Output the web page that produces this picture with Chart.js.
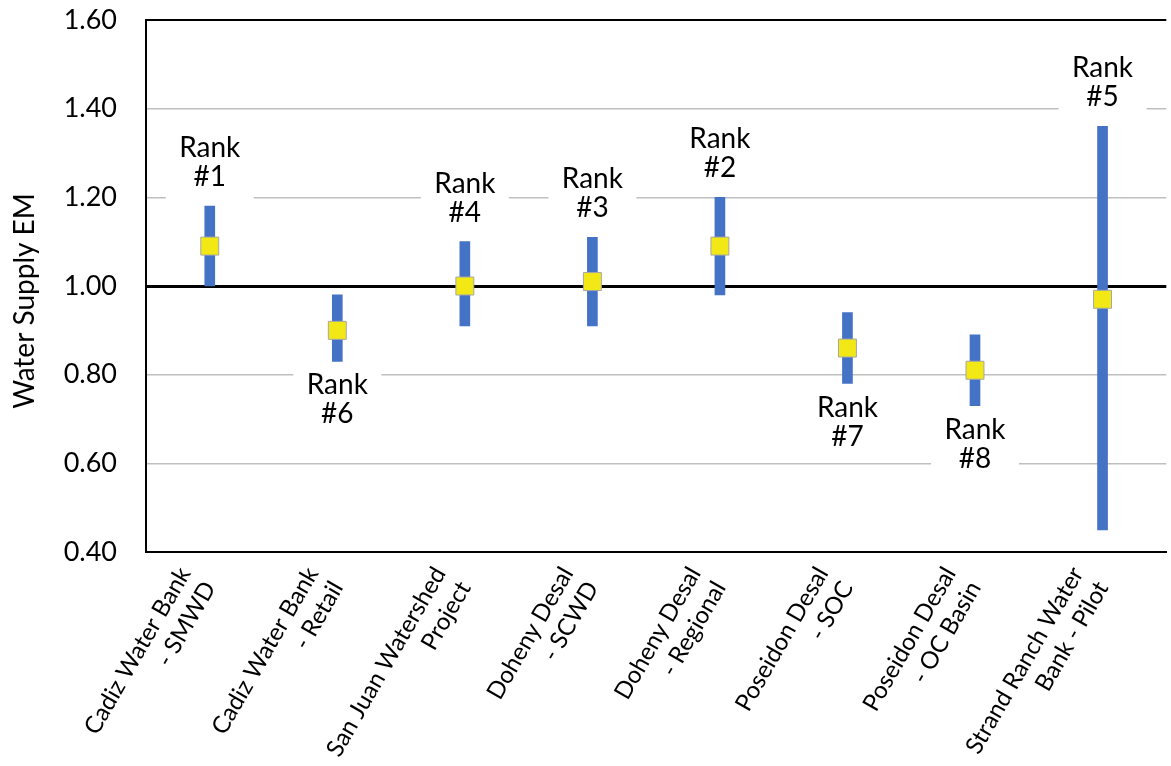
<!DOCTYPE html>
<html>
<head>
<meta charset="utf-8">
<script src="https://cdn.jsdelivr.net/npm/chart.js@4.4.1/dist/chart.umd.min.js"></script>
<style>
  html, body { margin: 0; padding: 0; background: #fff; overflow: hidden; }
  #wrap { width: 1171px; height: 766px; overflow: hidden; }
  canvas { display: block; }
</style>
</head>
<body>
<div id="wrap"><canvas id="c" width="1180" height="766"></canvas></div>
<script>
// ---- data ----
const categories = [
  ['Cadiz Water Bank', '- SMWD'],
  ['Cadiz Water Bank', '- Retail'],
  ['San Juan Watershed', 'Project'],
  ['Doheny Desal', '- SCWD'],
  ['Doheny Desal', '- Regional'],
  ['Poseidon Desal', '- SOC'],
  ['Poseidon Desal', '- OC Basin'],
  ['Strand Ranch Water', 'Bank - Pilot']
];
const lowValues  = [1.00, 0.83, 0.91, 0.91, 0.98, 0.78, 0.73, 0.45];
const highValues = [1.18, 0.98, 1.10, 1.11, 1.20, 0.94, 0.89, 1.36];
const midValues  = [1.09, 0.90, 1.00, 1.01, 1.09, 0.86, 0.81, 0.97];
const ranks      = [1, 6, 4, 3, 2, 7, 8, 5];
const rankSide   = ['above', 'below', 'above', 'above', 'above', 'below', 'below', 'above'];
const yTicks     = [0.40, 0.60, 0.80, 1.00, 1.20, 1.40, 1.60];
const yTitle     = 'Water Supply EM';

const FONT = 'Lato, "Open Sans", sans-serif';
const near = (a, b) => Math.abs(a - b) < 1e-6;

const rankLabelPlugin = {
  id: 'rankLabels',
  beforeDatasetsDraw(chart) {
    const ctx = chart.ctx;
    const xs = chart.scales.x, ys = chart.scales.y;
    ctx.save();
    ctx.font = '28px ' + FONT;
    ctx.textAlign = 'center';
    ctx.textBaseline = 'middle';
    const lh = 29;
    ranks.forEach((r, i) => {
      const x = xs.getPixelForValue(i);
      let l1, l2;
      if (rankSide[i] === 'above') {
        l2 = ys.getPixelForValue(highValues[i]) - 29;
        l1 = l2 - lh;
      } else {
        l1 = ys.getPixelForValue(lowValues[i]) + 24;
        l2 = l1 + lh;
      }
      ctx.fillStyle = '#ffffff';
      ctx.fillRect(x - 44, l1 - 22, 88, (l2 + 23) - (l1 - 22));
      ctx.fillStyle = '#000000';
      ctx.fillText('Rank', x, l1);
      ctx.fillText('#' + r, x, l2);
    });
    ctx.restore();
  }
};

const yTitlePlugin = {
  id: 'yTitle',
  afterDraw(chart) {
    const ctx = chart.ctx;
    const a = chart.chartArea;
    ctx.save();
    ctx.translate(25, (a.top + a.bottom) / 2 + 15);
    ctx.rotate(-Math.PI / 2);
    ctx.font = '28px ' + FONT;
    ctx.fillStyle = '#000';
    ctx.textAlign = 'center';
    ctx.textBaseline = 'middle';
    ctx.fillText(yTitle, 0, 0);
    ctx.restore();
  }
};

new Chart(document.getElementById('c'), {
  type: 'bar',
  data: {
    labels: categories,
    datasets: [
      {
        type: 'line',
        label: 'EM',
        data: midValues,
        showLine: false,
        pointStyle: 'rect',
        pointRadius: 12.7,
        pointHoverRadius: 12.7,
        pointBackgroundColor: '#F2E816',
        pointBorderColor: '#A6A6A6',
        pointBorderWidth: 1,
        order: 0
      },
      {
        type: 'bar',
        label: 'Range',
        data: lowValues.map((l, i) => [l, highValues[i]]),
        backgroundColor: '#4472C4',
        borderWidth: 0,
        barThickness: 10,
        order: 1
      }
    ]
  },
  options: {
    responsive: false,
    animation: false,
    events: [],
    layout: { padding: { top: 20, right: 2, left: 0, bottom: 0 } },
    plugins: { legend: { display: false }, tooltip: { enabled: false } },
    scales: {
      x: {
        offset: true,
        grid: { display: false },
        border: { display: true, color: '#000', width: 2 },
        ticks: {
          autoSkip: false,
          minRotation: 60,
          maxRotation: 60,
          padding: 2,
          labelOffset: -25,
          color: '#000',
          font: { family: FONT, size: 24, lineHeight: 1.2 }
        },
        afterFit(scale) {
          scale.height = 766 - 552;
          scale.paddingLeft = 0; scale.paddingRight = 0;
          scale.paddingTop = 0; scale.paddingBottom = 0;
        }
      },
      y: {
        min: 0.4,
        max: 1.6,
        afterBuildTicks(scale) { scale.ticks = yTicks.map(v => ({ value: v })); },
        grid: {
          drawTicks: false,
          color: c => (near(c.tick.value, 1) || near(c.tick.value, 1.6)) ? '#000' : '#BFBFBF',
          lineWidth: c => near(c.tick.value, 1) ? 3 : (near(c.tick.value, 1.6) ? 2 : 1.5)
        },
        border: { display: true, color: '#000', width: 2 },
        ticks: {
          padding: 29,
          color: '#000',
          font: { family: FONT, size: 27 },
          callback: v => Number(v).toFixed(2)
        },
        afterFit(scale) {
          scale.width = 146;
          scale.paddingTop = 0; scale.paddingBottom = 0;
          scale.paddingLeft = 0; scale.paddingRight = 0;
        }
      }
    }
  },
  plugins: [rankLabelPlugin, yTitlePlugin]
});
</script>
</body>
</html>
